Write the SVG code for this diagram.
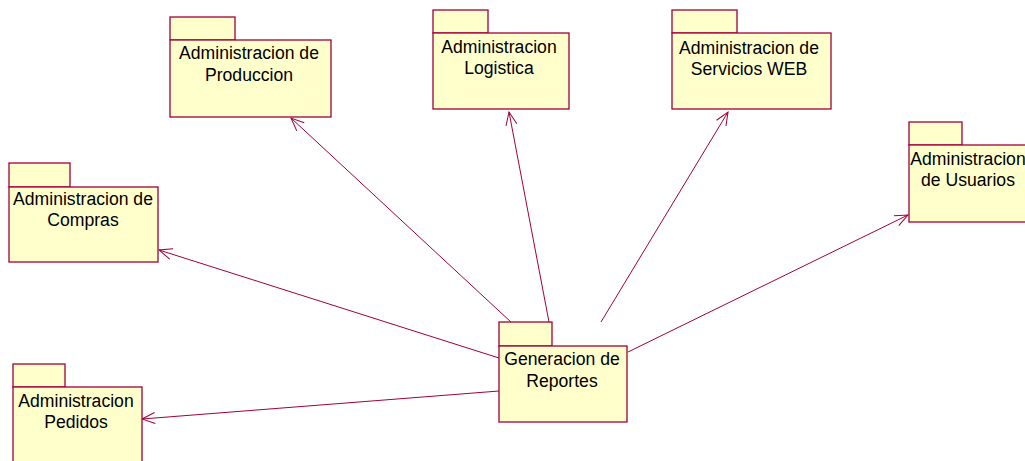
<svg xmlns="http://www.w3.org/2000/svg" width="1025" height="461" viewBox="0 0 1025 461">
<style>
.pk{fill:#FFFFCC;stroke:#A0003A;stroke-width:1.3}
.t{font-family:"Liberation Sans",Arial,sans-serif;font-size:17.6px;fill:#000;text-anchor:middle}
.c{stroke:#A0003A;stroke-width:1;fill:none}
</style>
<defs>
<marker id="ah" markerUnits="userSpaceOnUse" markerWidth="30" markerHeight="30" refX="0" refY="0" viewBox="-15 -15 30 30" orient="auto" overflow="visible">
<path d="M-13,-5.5 L0,0 L-13,5.5" fill="none" stroke="#A0003A" stroke-width="1"/>
</marker>
</defs>
<rect width="1025" height="461" fill="#fff"/>
<g id="connectors">
<line class="c" x1="512" y1="323" x2="291" y2="118" marker-end="url(#ah)"/>
<line class="c" x1="549" y1="322" x2="509" y2="112" marker-end="url(#ah)"/>
<line class="c" x1="601" y1="322" x2="728" y2="112" marker-end="url(#ah)"/>
<line class="c" x1="628" y1="352" x2="908" y2="215" marker-end="url(#ah)"/>
<line class="c" x1="499" y1="358" x2="159" y2="250" marker-end="url(#ah)"/>
<line class="c" x1="499" y1="391" x2="142" y2="419" marker-end="url(#ah)"/>
</g>
<g id="produccion">
<rect class="pk" x="170" y="17" width="65" height="23"/>
<rect class="pk" x="170" y="40" width="161" height="77"/>
<text class="t" x="249" y="59">Administracion de</text>
<text class="t" x="249" y="81">Produccion</text>
</g>
<g id="logistica">
<rect class="pk" x="433" y="10" width="55" height="23"/>
<rect class="pk" x="433" y="33" width="136" height="76"/>
<text class="t" x="499" y="53">Administracion</text>
<text class="t" x="499" y="74">Logistica</text>
</g>
<g id="servicios">
<rect class="pk" x="672" y="10" width="65" height="23"/>
<rect class="pk" x="672" y="33" width="159" height="76"/>
<text class="t" x="749" y="54">Administracion de</text>
<text class="t" x="749" y="75">Servicios WEB</text>
</g>
<g id="usuarios">
<rect class="pk" x="909" y="122" width="53" height="23"/>
<rect class="pk" x="909" y="145" width="119" height="77"/>
<text class="t" x="968" y="165">Administracion</text>
<text class="t" x="968" y="186">de Usuarios</text>
</g>
<g id="compras">
<rect class="pk" x="9" y="163" width="61" height="24"/>
<rect class="pk" x="9" y="187" width="149" height="75"/>
<text class="t" x="83" y="205">Administracion de</text>
<text class="t" x="83" y="226">Compras</text>
</g>
<g id="pedidos">
<rect class="pk" x="13" y="364" width="52" height="23"/>
<rect class="pk" x="13" y="387" width="129" height="80"/>
<text class="t" x="76" y="407">Administracion</text>
<text class="t" x="76" y="428">Pedidos</text>
</g>
<g id="reportes">
<rect class="pk" x="499" y="322" width="53" height="24"/>
<rect class="pk" x="499" y="346" width="128" height="76"/>
<text class="t" x="562" y="365">Generacion de</text>
<text class="t" x="562" y="387">Reportes</text>
</g>
</svg>
